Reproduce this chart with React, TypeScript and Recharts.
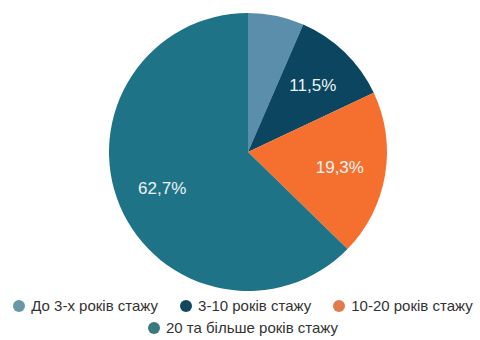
import { Cell, Legend, Pie, PieChart } from "recharts";

const categories = ["До 3-х років стажу", "3-10 років стажу", "10-20 років стажу", "20 та більше років стажу"];
const shares = [6.5, 11.5, 19.3, 62.7];
const sliceColors = ["#5a8eaa", "#0b4560", "#f5702f", "#1f7386"];
const legendColors = ["#6a97a8", "#14475c", "#e27a4e", "#3b7a7c"];
const legendRows = [[0, 1, 2], [3]];

const data = categories.map((name, i) => ({ name, value: shares[i] }));

const RAD = Math.PI / 180;

function renderLabel(props: any) {
  const { cx, cy, midAngle, outerRadius, value, percent } = props;
  if (percent < 0.08) return null;
  const r = outerRadius * 0.67;
  const x = cx + r * Math.cos(-midAngle * RAD);
  const y = cy + r * Math.sin(-midAngle * RAD);
  return (
    <text
      x={x}
      y={y}
      fill="#eef4f6"
      textAnchor="middle"
      dominantBaseline="central"
      fontSize={17}
      fontFamily="'Liberation Sans', Arial, sans-serif"
    >
      {value.toFixed(1).replace(".", ",")}%
    </text>
  );
}

function renderLegend() {
  return (
    <div
      style={{
        width: 486,
        fontFamily: "'Liberation Sans', Arial, sans-serif",
        fontSize: 15,
        color: "#333",
      }}
    >
      {legendRows.map((row, r) => (
        <div key={r} style={{ display: "flex", justifyContent: "center", whiteSpace: "nowrap", marginBottom: 4 }}>
          {row.map((i) => (
            <div key={i} style={{ display: "flex", alignItems: "center", margin: "0 11px", lineHeight: "18px" }}>
              <span
                style={{
                  display: "inline-block",
                  width: 12,
                  height: 12,
                  borderRadius: 6,
                  background: legendColors[i],
                  marginRight: 6,
                }}
              />
              {categories[i]}
            </div>
          ))}
        </div>
      ))}
    </div>
  );
}

export default function App() {
  return (
    <div style={{ position: "absolute", left: 0, top: 0, background: "#fff" }}>
      <PieChart width={480} height={340} margin={{ top: 0, right: 0, bottom: 0, left: 0 }}>
        <Pie
          data={data}
          dataKey="value"
          nameKey="name"
          cx={248}
          cy={152}
          outerRadius={139}
          startAngle={90}
          endAngle={-270}
          stroke="none"
          label={renderLabel}
          labelLine={false}
          isAnimationActive={false}
        >
          {data.map((d, i) => (
            <Cell key={d.name} fill={sliceColors[i]} />
          ))}
        </Pie>
        <Legend content={renderLegend} wrapperStyle={{ top: 297, left: 0, width: 486 }} />
      </PieChart>
    </div>
  );
}
